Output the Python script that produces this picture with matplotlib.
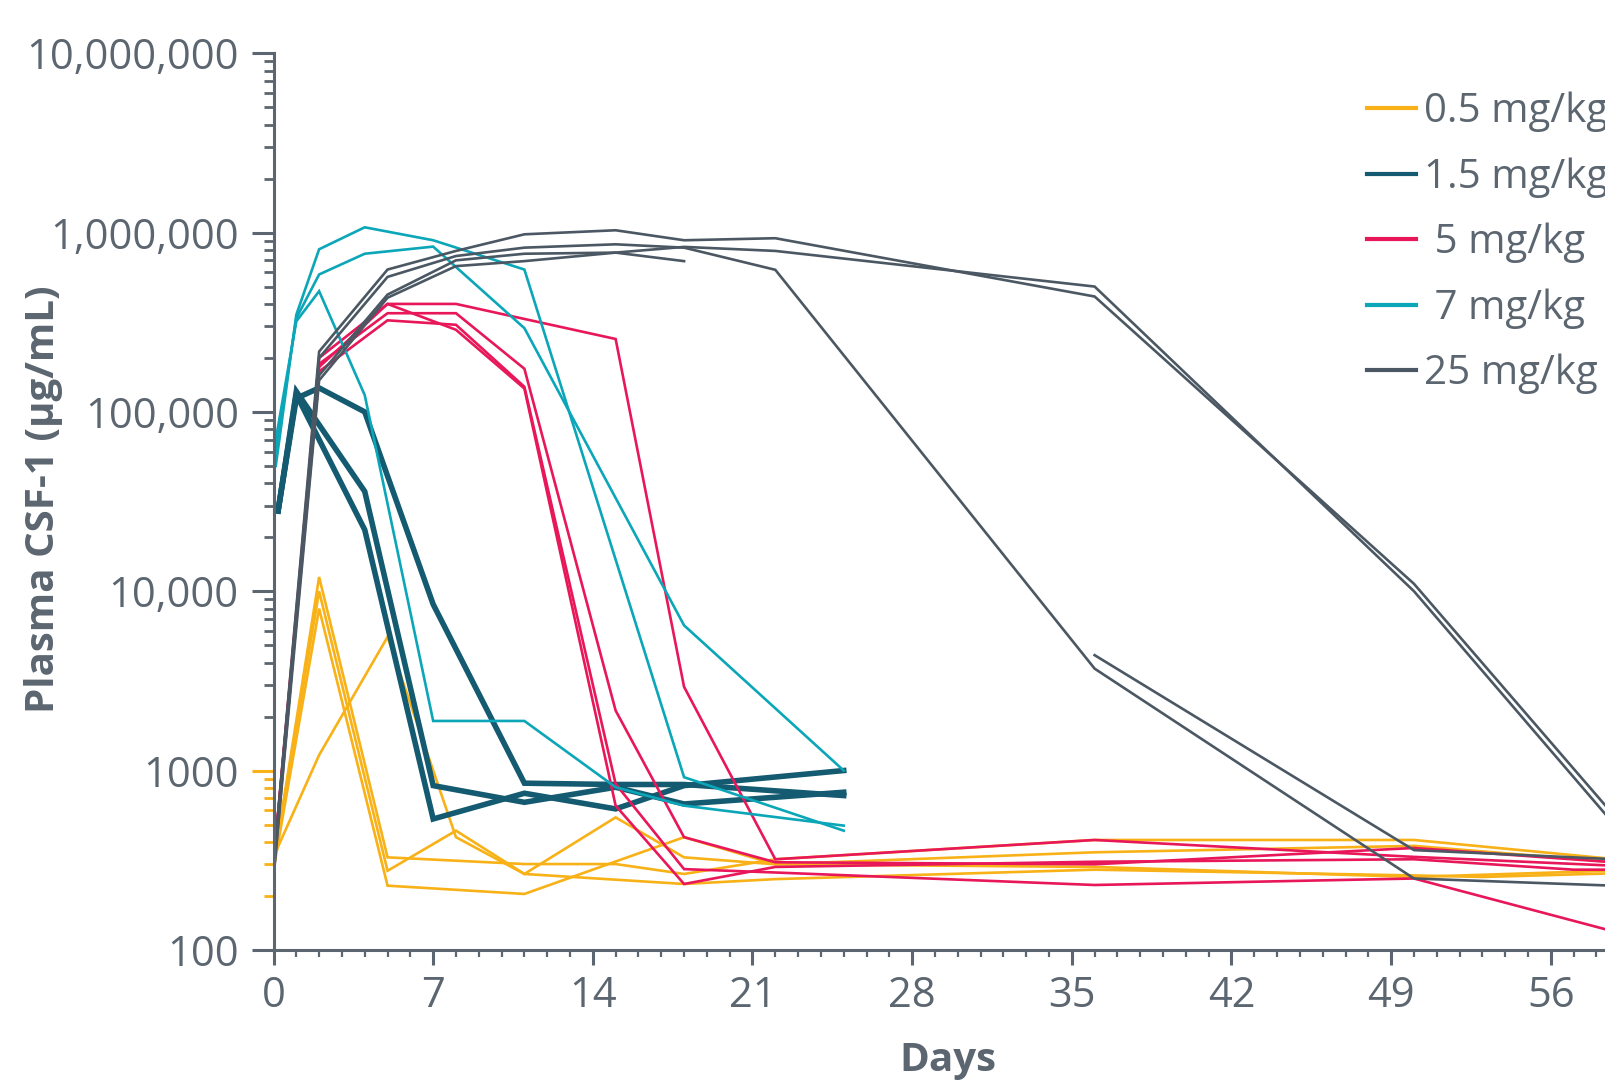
import numpy as np
import matplotlib
matplotlib.use("Agg")
import matplotlib.pyplot as plt
from matplotlib.ticker import FixedLocator, FixedFormatter, MultipleLocator

plt.rcParams['font.family'] = ['Open Sans', 'DejaVu Sans']

txt = '#5c6670'
dose_labels = ['0.5 mg/kg', '1.5 mg/kg', ' 5 mg/kg', ' 7 mg/kg', '25 mg/kg']
dose_colors = ['#f8b116', '#145a70', '#e8175a', '#0ba6b8', '#4b5863']

# 0.5 mg/kg
d05 = [
    ([0, 2, 5, 11, 15, 18, 22, 36, 50, 60], [300, 12000, 328, 301, 301, 265, 320, 410, 410, 310]),
    ([0, 2, 5, 8, 11, 15, 18, 22, 36, 50, 60], [300, 10000, 276, 462, 265, 548, 328, 300, 350, 380, 300]),
    ([0, 2, 5, 11, 18, 22, 36, 50, 60], [280, 8000, 228, 205, 425, 300, 290, 255, 280]),
    ([0, 2, 5, 8, 11, 18, 22, 36, 50, 53, 60], [330, 1220, 5560, 425, 265, 233, 248, 280, 260, 255, 270]),
]
# 1.5 mg/kg
d15 = [
    ([0.2, 1, 2, 4, 7, 11, 15, 18, 25], [28000, 119000, 136000, 100000, 8450, 850, 836, 836, 725]),
    ([0.2, 1, 4, 7, 11, 15, 18, 25], [28000, 130000, 36000, 824, 665, 807, 651, 757]),
    ([0.2, 1, 4, 7, 11, 15, 18, 25], [28000, 125000, 22000, 537, 747, 611, 824, 1000]),
]
# 5 mg/kg
d5 = [
    ([0, 2, 5, 8, 15, 18, 22, 36, 50, 60], [300, 200000, 400000, 400000, 255000, 2930, 320, 410, 330, 290]),
    ([0, 2, 5, 8, 11, 15, 18, 22, 36, 50, 60], [300, 185000, 355000, 355000, 174000, 2160, 425, 308, 300, 370, 300]),
    ([0, 2, 5, 8, 11, 15, 18, 22, 36, 50, 60], [300, 168000, 324000, 306000, 138000, 842, 282, 270, 230, 250, 115]),
    ([0, 2, 5, 8, 11, 15, 18, 22, 36, 50, 57, 60], [300, 178000, 400000, 287000, 135000, 637, 233, 290, 310, 320, 280, 280]),
]
# 7 mg/kg
d7 = [
    ([0.1, 1, 2, 4, 7, 11, 18, 25], [50000, 348000, 807000, 1070000, 906000, 622000, 918, 462]),
    ([0.1, 1, 2, 4, 7, 11, 15, 18, 25], [70000, 320000, 471000, 124000, 1890, 1890, 807, 637, 493]),
    ([0.1, 1, 2, 4, 7, 11, 18, 25], [60000, 333000, 584000, 762000, 835000, 293000, 6450, 1000]),
]
# 25 mg/kg
d25 = [
    ([0, 2, 5, 8, 11, 15, 18, 22, 36, 50, 60], [300, 217000, 622000, 790000, 978000, 1030000, 906000, 930000, 440000, 11000, 370]),
    ([0, 2, 5, 8, 11, 15, 18, 22, 36, 50, 60], [250, 200000, 566000, 740000, 824000, 860000, 824000, 620000, 3700, 250, 225]),
    ([0, 2, 5, 8, 11, 15, 18, 22, 36, 50, 60], [280, 160000, 451000, 700000, 762000, 773000, 832000, 790000, 500000, 10000, 330]),
    ([0, 2, 5, 8, 11, 15, 18], [260, 150000, 433000, 650000, 693000, 773000, 693000]),
    ([36, 50, 60], [4400, 360, 315]),
]
groups = [d05, d15, d5, d7, d25]
widths = [1.9, 4.0, 1.9, 1.9, 1.9]

yticks = [100, 1000, 10000, 100000, 1000000, 10000000]
ylabels = ['100', '1000', '10,000', '100,000', '1,000,000', '10,000,000']
xticks = [0, 7, 14, 21, 28, 35, 42, 49, 56]

fig = plt.figure(figsize=(16.06, 10.80), dpi=100)
ax = fig.add_axes([0.1703, 0.1205, 0.8297, 0.8302])

for grp, col, lw in zip(groups, dose_colors, widths):
    for days, vals in grp:
        ax.plot(days, vals, color=col, lw=lw, solid_joinstyle='miter')

ax.set_yscale('log')
ax.set_ylim(100, 1e7)
ax.set_xlim(0, 58.42)
ax.yaxis.set_major_locator(FixedLocator(yticks))
ax.yaxis.set_major_formatter(FixedFormatter(ylabels))
minors = [m * 10 ** e for e in range(2, 7) for m in range(2, 10)]
ax.yaxis.set_minor_locator(FixedLocator(minors))
ax.yaxis.set_minor_formatter(FixedFormatter([''] * len(minors)))
ax.xaxis.set_major_locator(FixedLocator(xticks))
ax.xaxis.set_minor_locator(MultipleLocator(1))

for s in ['top', 'right']:
    ax.spines[s].set_visible(False)
for s in ['left', 'bottom']:
    ax.spines[s].set_color(txt)
    ax.spines[s].set_linewidth(2.2)

ax.tick_params(axis='y', which='major', length=16, width=2.2, color=txt, pad=9,
               labelsize=30, labelcolor=txt)
ax.tick_params(axis='y', which='minor', length=7, width=2.0, color=txt)
ax.tick_params(axis='x', which='major', length=11, width=2.2, color=txt, pad=7,
               labelsize=30, labelcolor=txt)
ax.tick_params(axis='x', which='minor', length=5, width=1.6, color=txt)

# the 100-1000 decade ticks are drawn in orange in the original
for t, loc in zip(ax.yaxis.get_major_ticks(len(yticks)), yticks):
    if loc == 1000:
        t.tick1line.set_markeredgecolor(dose_colors[0])
for t, loc in zip(ax.yaxis.get_minor_ticks(len(minors)), minors):
    if loc < 1000:
        t.tick1line.set_markeredgecolor(dose_colors[0])

fig.text(0.027, 0.538, 'Plasma CSF-1 (µg/mL)', rotation=90, ha='center', va='center',
         fontsize=29, fontweight='bold', color=txt)
fig.text(0.59, 0.018, 'Days', ha='center', va='center', fontsize=29,
         fontweight='bold', color=txt)

handles = [plt.Line2D([], [], color=c, lw=3) for c in dose_colors]
leg = fig.legend(handles, dose_labels, loc='upper left', bbox_to_anchor=(0.851, 0.915),
                 frameon=False, fontsize=29, handlelength=1.22, handletextpad=0.2,
                 labelspacing=0.62, borderaxespad=0, borderpad=0)
for t in leg.get_texts():
    t.set_color(txt)

fig.savefig('out.png', dpi=100)
